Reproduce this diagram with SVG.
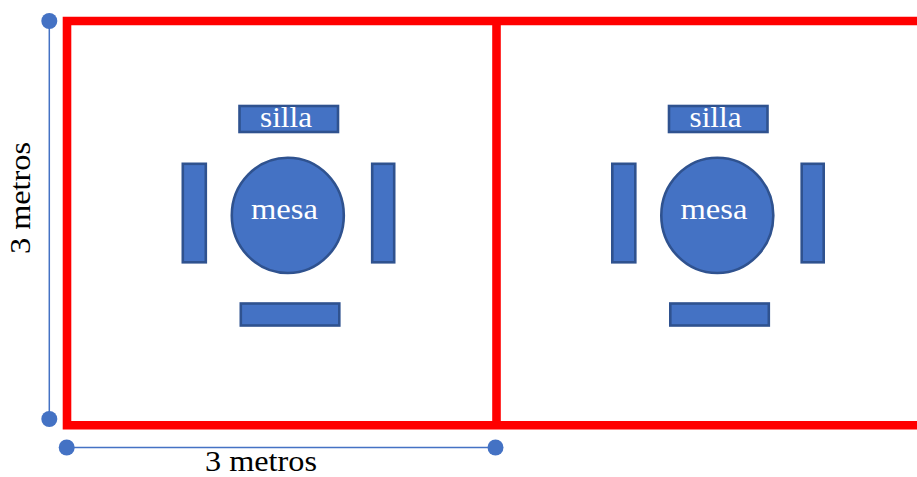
<svg xmlns="http://www.w3.org/2000/svg" width="917" height="477" viewBox="0 0 917 477">
<style>
.wall{fill:none;stroke:#ff0000;stroke-width:8.6}
.dim{fill:none;stroke:#4472c4;stroke-width:1.5}
.dot{fill:#4472c4}
.shape{fill:#4472c4;stroke:#2f528f;stroke-width:2.6}
text{font-family:"Liberation Serif","Times New Roman",serif;font-size:29px}
.in{fill:#ffffff;text-anchor:middle}
.out{fill:#000000;text-anchor:middle}
</style>
<defs>
<g id="set">
<rect class="shape" x="239.500" y="106" width="98.500" height="26"/>
<rect class="shape" x="182.800" y="163.800" width="23" height="98.500"/>
<rect class="shape" x="372.200" y="163.800" width="22" height="98.500"/>
<rect class="shape" x="240.800" y="303.500" width="98.500" height="22"/>
<ellipse class="shape" cx="287.800" cy="215.400" rx="56" ry="57.600"/>
</g>
</defs>
<g id="connectors">
<path class="dim" d="M49.300 21V419"/>
<path class="dim" d="M66.700 447.500H495.500"/>
<circle class="dot" cx="49.300" cy="21" r="8"/>
<circle class="dot" cx="49.300" cy="419" r="8"/>
<circle class="dot" cx="66.700" cy="447.500" r="8"/>
<circle class="dot" cx="495.500" cy="447.500" r="8"/>
</g>
<g id="walls">
<path class="wall" d="M917 21H67V425.300H917"/>
<path class="wall" d="M496.500 21V425.300"/>
</g>
<g id="room-1">
<use href="#set"/>
<text class="in" x="286" y="127" textLength="52" lengthAdjust="spacingAndGlyphs">silla</text>
<text class="in" x="284.500" y="219" textLength="67" lengthAdjust="spacingAndGlyphs">mesa</text>
</g>
<g id="room-2">
<use href="#set" transform="translate(429.500 0)"/>
<text class="in" x="715.500" y="127" textLength="52" lengthAdjust="spacingAndGlyphs">silla</text>
<text class="in" x="714" y="219" textLength="67" lengthAdjust="spacingAndGlyphs">mesa</text>
</g>
<g id="labels">
<text class="out" x="261" y="470.500" textLength="112" lengthAdjust="spacingAndGlyphs">3 metros</text>
<text class="out" transform="translate(30 198) rotate(-90)" textLength="112" lengthAdjust="spacingAndGlyphs">3 metros</text>
</g>
</svg>
